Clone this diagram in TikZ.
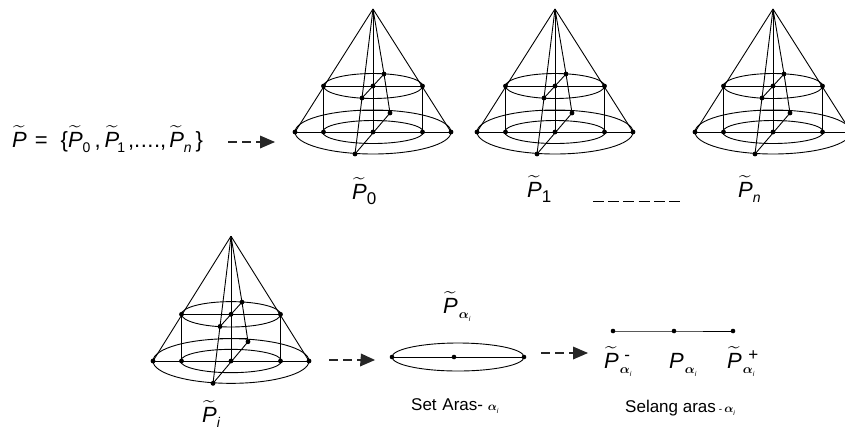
\documentclass[tikz,border=0pt]{standalone}
\usepackage{amsmath}
\usepackage{fix-cm}
\usepackage{fontspec}
\setmainfont{Liberation Sans}
\usetikzlibrary{arrows.meta}
\newcommand{\tP}{\ensuremath{\widetilde{\mbox{\itshape P}}}}
\newcommand{\sbx}[2][-5pt]{\raisebox{#1}{\fontsize{14}{14}\selectfont #2}}
\newcommand{\aI}{\hspace{1pt}\raisebox{-5pt}{\fontsize{13}{13}\selectfont$\boldsymbol{\alpha}$}\raisebox{-8pt}{\fontsize{7}{7}\selectfont\itshape i}}
\newcommand{\aIt}{\raisebox{0pt}{\fontsize{12}{12}\selectfont$\boldsymbol{\alpha}$}\raisebox{-3pt}{\fontsize{7}{7}\selectfont\itshape i}}
\tikzset{
  ln/.style={line width=0.9pt,black},
  dasharrow/.style={line width=2.8pt,dash pattern=on 9pt off 5pt,black!85},
  headtip/.style={fill=black!85},
  lbl/.style={inner sep=0pt,anchor=base west,font=\fontsize{22}{24}\selectfont},
  biglbl/.style={inner sep=0pt,anchor=base west,font=\fontsize{22}{24}\selectfont},
  smalllbl/.style={inner sep=0pt,anchor=base west,font=\fontsize{17}{19}\selectfont},
  cone/.pic={
    \draw[ln] (0,0) ellipse (78 and 22);
    \draw[ln] (0,0) ellipse (50.5 and 11.5);
    \draw[ln] (0,-46) ellipse (49.5 and 12.5);
    \draw[ln] (-78,0) -- (78,0);
    \draw[ln] (-49.5,-46) -- (49.5,-46);
    \draw[ln] (-49.5,-46) -- (-49.5,0);
    \draw[ln] (49.5,-46) -- (49.5,0);
    \draw[ln] (0,-123) -- (-78,0);
    \draw[ln] (0,-123) -- (78,0);
    \draw[ln] (0,-123) -- (0,0);
    \draw[ln] (0,-123) -- (-11,-34) -- (-18,22);
    \draw[ln] (0,-123) -- (11,-58) -- (17,-19) -- (-18,22);
    \draw[ln] (11,-58) -- (-11,-34);
    \draw[ln] (-11,-22) -- (17,-22);
    \foreach \p in {(-78,0),(78,0),(-49.5,0),(49.5,0),(0,0),(-49.5,-46),(49.5,-46),(0,-46),(-11,-34),(11,-58),(17,-19),(-18,22)}
      \fill \p circle (2.4);
  }
}
\begin{document}
\begin{tikzpicture}[x=1pt,y=-1pt]
\useasboundingbox (0,0) rectangle (845,432);
\clip (0,0) rectangle (845,432);
\fill[white] (0,0) rectangle (845,432);
\pic at (373,132) {cone};
\pic at (555,132) {cone};
\pic at (773,132) {cone};
\pic[yscale=1.015] at (231,361) {cone};
% level set ellipse
\draw[ln] (458,357) ellipse (66 and 14);
\draw[ln] (392,357) -- (524,357);
\foreach \p in {(392,357),(454,357),(524,357)} \fill \p circle (2.3);
% interval
\coordinate (il) at (613,331);
\coordinate (im) at (674,331);
\coordinate (ir) at (733,331);
\draw[ln] (il) -- (im) -- (ir);
\foreach \p in {il,im,ir} \fill (\p) circle (2.3);
% dashes
\coordinate (ds) at (593,201); \coordinate (de) at (680,201);
\draw[line width=1pt,dash pattern=on 11pt off 4.2pt] (ds) -- (de);
% arrows
\coordinate (a1s) at (228,142); \coordinate (a1e) at (260,142); \coordinate (a1t) at (275,142);
\coordinate (a2s) at (329,360); \coordinate (a2e) at (361,360); \coordinate (a2t) at (375,360);
\coordinate (a3s) at (541,353); \coordinate (a3e) at (573,353); \coordinate (a3t) at (588,353);
\foreach \s/\e/\t in {a1s/a1e/a1t,a2s/a2e/a2t,a3s/a3e/a3t}{
  \draw[dasharrow] (\s) -- (\e);
  \fill[headtip] (\e) ++(0,-6.5) -- (\t) -- ++(-15,6.5) -- cycle;
}
% labels
\node[lbl] (set) at (12,147) {\tP\hspace{8pt}=\hspace{13pt}\{\tP\sbx{0}\hspace{4pt},\hspace{4pt}\tP\hspace{-2pt}\sbx{1}\hspace{3pt},.\hspace{0.5pt}.\hspace{0.5pt}.\hspace{0.5pt}.,\hspace{3pt}\tP\sbx{\itshape n}\hspace{4pt}\}};
\node[biglbl] (p0) at (352,199) {\tP\sbx[-5pt]{\fontsize{17}{17}\selectfont 0}};
\node[biglbl] (p1) at (527,197) {\tP\sbx[-5pt]{\fontsize{17}{17}\selectfont 1}};
\node[biglbl] (pn) at (738,197) {\tP\sbx[-5pt]{\fontsize{14}{14}\selectfont\itshape n}};
\node[biglbl] (pi) at (202,422) {\tP\sbx[-5pt]{\itshape i}};
\node[biglbl] (pa) at (443,313) {\tP\aI};
\node[biglbl] (pm) at (604,368) {\tP\aI\hspace{-7pt}\raisebox{8pt}{\fontsize{17}{17}\selectfont -}};
\node[biglbl] (pc) at (669,368) {\itshape P\aI};
\node[biglbl] (pp) at (727,368) {\tP\aI\hspace{-6pt}\raisebox{8pt}{\fontsize{17}{17}\selectfont +}};
\node[smalllbl] (sa) at (411,410) {Set \hspace{1pt}Aras- \aIt};
\node[smalllbl] (sl) at (625,412) {Selang aras\hspace{3pt}{\fontsize{10}{10}\selectfont -}\hspace{2pt}\aIt};
\end{tikzpicture}
\end{document}
